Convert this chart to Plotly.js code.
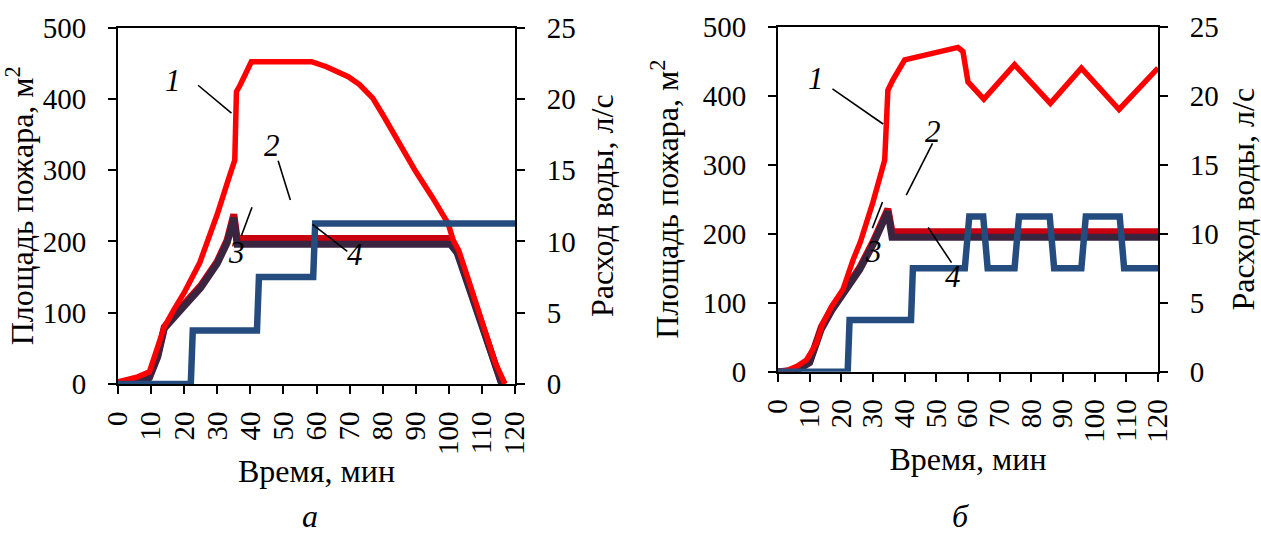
<!DOCTYPE html>
<html>
<head>
<meta charset="utf-8">
<script src="https://cdn.plot.ly/plotly-3.0.1.min.js"></script>
<style>html,body{margin:0;padding:0;background:#fff;}#chart{width:1261px;height:535px;}</style>
</head>
<body>
<div id="chart"></div>
<script>
// ---------- tick labels ----------
const timeTicks = [0, 10, 20, 30, 40, 50, 60, 70, 80, 90, 100, 110, 120];
const timeTickText = ["0", "10", "20", "30", "40", "50", "60", "70", "80", "90", "100", "110", "120"];

// ---------- panel а ----------
const a_t1 = [0, 3, 6, 9.5, 12, 14, 17, 20, 24.7, 28, 30, 33.3, 35.3, 35.8, 37, 40.3, 50, 58.5, 63, 69.6, 73, 77, 80, 85, 90, 95, 99.8, 101.3, 103, 106, 110, 114, 117];
const a_area1 = [3, 6, 10, 17, 50, 80, 105, 128, 170, 210, 238, 286, 314, 410, 420, 452, 452, 452, 445, 431, 420, 401, 378, 338, 298, 262, 225, 202, 187, 145, 88, 30, 0];

const a_t23 = [0, 2, 5, 9.5, 12, 14, 17, 20, 25, 30, 33, 35, 36, 40, 60, 80, 100.5, 102.5, 105, 108, 112, 116];
const a_area2 = [0, 0, 2, 10, 40, 80, 98, 112, 138, 172, 202, 238, 204, 204, 204, 204, 204, 188, 153, 112, 56, 0];
const a_area3 = [0, 0, 2, 9, 38, 78, 95, 109, 135, 169, 198, 233, 196, 196, 196, 196, 196, 184, 150, 109, 53, 0];

const a_t4 = [0, 22, 22.6, 42, 42.6, 59, 59.6, 120];
const a_water4 = [0, 0, 3.75, 3.75, 7.5, 7.5, 11.25, 11.25];

// ---------- panel б ----------
const b_t1 = [0, 3, 6, 9, 12, 14, 17, 20.5, 23.7, 26, 30, 32, 33.7, 34.7, 36.3, 40, 42.6, 50, 56.8, 58.4, 60, 65, 74.7, 86, 95.8, 107.7, 120];
const b_area1 = [0, 2, 8, 17, 40, 68, 95, 119, 162, 188, 246, 278, 307, 408, 423, 452, 455, 462, 470, 464, 420, 395, 445, 389, 440, 380, 440];

const b_t23 = [0, 3, 6, 10, 13.7, 17, 20.5, 25.8, 30, 33, 34.7, 36, 40, 80, 120];
const b_area2 = [0, 0, 3, 15, 65, 92, 114, 151, 188, 216, 236, 203, 203, 203, 203];
const b_area3 = [0, 0, 2, 13, 62, 89, 111, 148, 184, 212, 232, 195, 195, 195, 195];

const b_t4 = [0, 22, 22.6, 42, 42.6, 59, 60.4, 64.8, 66.2, 74.7, 76.1, 85.8, 87.2, 95.8, 97.2, 107.9, 109.3, 120];
const b_water4 = [0, 0, 3.75, 3.75, 7.5, 7.5, 11.25, 11.25, 7.5, 7.5, 11.25, 11.25, 7.5, 7.5, 11.25, 11.25, 7.5, 7.5];

// ---------- styles ----------
const RED = '#FF0000', C2 = '#C8000F', C3 = '#3A2540', BLUE = '#254C7E';
const FONT = 'Liberation Serif';

function ln(x, y, color, width, xa, ya) {
  return {x: x, y: y, type: 'scatter', mode: 'lines', xaxis: xa, yaxis: ya,
          line: {color: color, width: width, shape: 'linear'}, hoverinfo: 'skip', showlegend: false};
}

const data = [
  ln(a_t23, a_area2, C2, 7, 'x', 'y'),
  ln(a_t23, a_area3, C3, 7, 'x', 'y'),
  ln(a_t1, a_area1, RED, 5.5, 'x', 'y'),
  ln(a_t4, a_water4, BLUE, 6.5, 'x', 'y2'),
  ln(b_t23, b_area2, C2, 7, 'x2', 'y3'),
  ln(b_t23, b_area3, C3, 7, 'x2', 'y3'),
  ln(b_t1, b_area1, RED, 5.5, 'x2', 'y3'),
  ln(b_t4, b_water4, BLUE, 6.5, 'x2', 'y4')
];

const axCommon = {
  showgrid: false, zeroline: false, showline: true, linecolor: '#000', linewidth: 2,
  ticks: 'outside', ticklen: 8, tickwidth: 2, tickcolor: '#000',
  tickfont: {family: FONT, size: 29, color: '#000'}
};
function xAx(domain, anchor) {
  return Object.assign({}, axCommon, {
    domain: domain, anchor: anchor, range: [0, 120], mirror: true,
    tickmode: 'array', tickvals: timeTicks, ticktext: timeTickText, tickangle: -90,
    ticklabelstandoff: 6,
    title: {text: 'Время, мин', font: {family: FONT, size: 32, color: '#000'}, standoff: 6}
  });
}
function yAx(domain, anchor, standoff) {
  return Object.assign({}, axCommon, {
    domain: domain, anchor: anchor, range: [0, 500], dtick: 100, tick0: 0,
    ticklabelstandoff: 16,
    title: {text: 'Площадь пожара, м<sup>2</sup>', font: {family: FONT, size: 32, color: '#000'}, standoff: standoff}
  });
}
function y2Ax(over, anchor, standoff) {
  return Object.assign({}, axCommon, {
    overlaying: over, side: 'right', anchor: anchor, range: [0, 25], dtick: 5, tick0: 0,
    ticklabelstandoff: 16,
    title: {text: 'Расход воды, л/с', font: {family: FONT, size: 32, color: '#000'}, standoff: standoff}
  });
}

const W = 1261, H = 535;
const xdomA = [118 / W, 515 / W], ydomA = [(H - 384) / H, (H - 27.5) / H];
const xdomB = [778 / W, 1158 / W], ydomB = [(H - 371.7) / H, (H - 26.7) / H];

const labelFont = {family: FONT, size: 31, color: '#000'};
function lab(txt, x, y, xr, yr) {
  return {text: '<i>' + txt + '</i>', x: x, y: y, xref: xr, yref: yr, showarrow: false, font: labelFont, xanchor: 'center', yanchor: 'middle'};
}
function seg(x0, y0, x1, y1, xr, yr) {
  return {type: 'line', x0: x0, y0: y0, x1: x1, y1: y1, xref: xr, yref: yr, line: {color: '#000', width: 1.6}};
}

const layout = {
  width: W, height: H, margin: {l: 0, r: 0, t: 0, b: 0},
  paper_bgcolor: '#fff', plot_bgcolor: '#fff', showlegend: false,
  font: {family: FONT, color: '#000'},
  xaxis: xAx(xdomA, 'y'),
  yaxis: yAx(ydomA, 'x', 0),
  yaxis2: y2Ax('y', 'x', 16),
  xaxis2: xAx(xdomB, 'y3'),
  yaxis3: yAx(ydomB, 'x2', 14),
  yaxis4: y2Ax('y3', 'x2', 15),
  annotations: [
    lab('1', 16.6, 426, 'x', 'y'),
    lab('2', 46.4, 335, 'x', 'y'),
    lab('3', 35.8, 185, 'x', 'y'),
    lab('4', 71.6, 181, 'x', 'y'),
    lab('1', 12.1, 425, 'x2', 'y3'),
    lab('2', 48.9, 348, 'x2', 'y3'),
    lab('3', 30, 174, 'x2', 'y3'),
    lab('4', 55.3, 138, 'x2', 'y3'),
    {text: '<i>а</i>', x: 310 / W, y: (H - 516) / H, xref: 'paper', yref: 'paper', showarrow: false,
     font: {family: FONT, size: 32, color: '#000'}, xanchor: 'center', yanchor: 'middle', borderpad: 0},
    {text: '<i>б</i>', x: 960 / W, y: (H - 516) / H, xref: 'paper', yref: 'paper', showarrow: false,
     font: {family: FONT, size: 32, color: '#000'}, xanchor: 'center', yanchor: 'middle', borderpad: 0}
  ],
  shapes: [
    seg(24.2, 419, 34.3, 380, 'x', 'y'),
    seg(48.4, 313, 52.1, 258, 'x', 'y'),
    seg(40.5, 248, 37.3, 208, 'x', 'y'),
    seg(58.8, 224, 69.3, 186, 'x', 'y'),
    seg(17.2, 410, 33.2, 359, 'x2', 'y3'),
    seg(48.8, 331, 40.5, 256, 'x2', 'y3'),
    seg(33, 246, 29.8, 208, 'x2', 'y3'),
    seg(47.4, 209, 54.8, 158, 'x2', 'y3')
  ]
};

Plotly.newPlot('chart', data, layout, {staticPlot: true, displayModeBar: false});
</script>
</body>
</html>
